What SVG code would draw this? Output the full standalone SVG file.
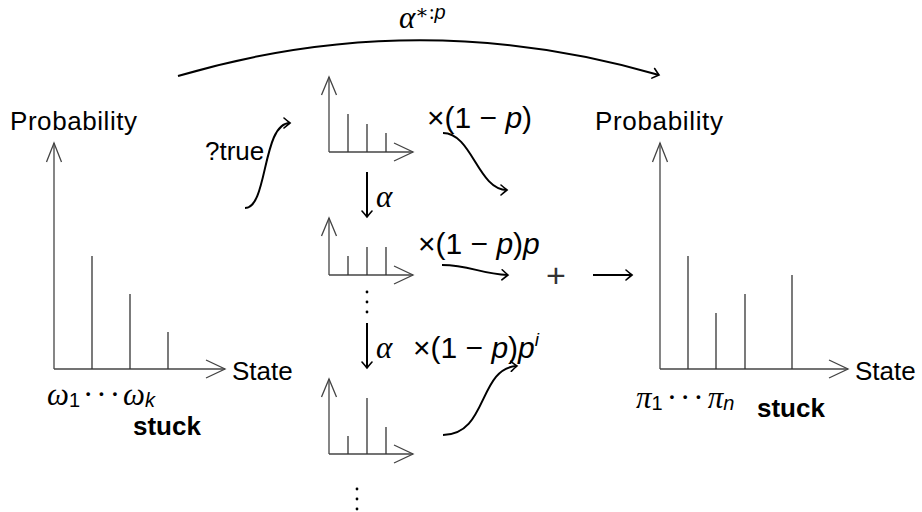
<svg xmlns="http://www.w3.org/2000/svg" width="922" height="512" viewBox="0 0 922 512">
<style>
.ax{fill:none;stroke:#444;stroke-width:1.3}
.bar{stroke:#333;stroke-width:1.3}
.con{fill:none;stroke:#000;stroke-width:2}
.t{font-family:"Liberation Sans","DejaVu Sans",sans-serif;font-size:26px;fill:#000}
.x{font-family:"Liberation Sans","DejaVu Sans",sans-serif;font-size:30px;fill:#000}
.b{font-family:"Liberation Sans","DejaVu Sans",sans-serif;font-size:26px;font-weight:bold;fill:#000}
.m{font-family:"Liberation Serif","DejaVu Serif",serif;font-style:italic;font-size:31px;fill:#000}
.mi{font-style:italic}
.dot{fill:#000}
</style>
<defs>
<marker id="to" viewBox="-8 -6 10 12" markerWidth="10" markerHeight="12" refX="0" refY="0" orient="auto" markerUnits="userSpaceOnUse">
<path d="M-6,-5 Q-2,-1.5 0,0 Q-2,1.5 -6,5" fill="none" stroke="#000" stroke-width="1.6" stroke-linecap="round"/>
</marker>
</defs>

<g id="left-chart">
<polyline class="ax" points="54,369 54,143"/>
<polyline class="ax" points="46.5,162 54,143 61.5,162"/>
<polyline class="ax" points="54,369 225,369"/>
<polyline class="ax" points="206,360 225,369 206,378"/>
<line class="bar" x1="92" y1="369" x2="92" y2="256"/>
<line class="bar" x1="130" y1="369" x2="130" y2="294"/>
<line class="bar" x1="168" y1="369" x2="168" y2="332"/>
<text class="t" x="10" y="130" textLength="127">Probability</text>
<text class="t" x="232" y="380">State</text>
<text x="47" y="405" class="m">ω<tspan font-family="Liberation Sans" font-style="normal" font-size="20" dy="2">1</tspan><tspan font-style="normal" dy="-2" dx="3">·</tspan><tspan font-style="normal" dx="3">·</tspan><tspan font-style="normal" dx="3">·</tspan><tspan dx="3">ω</tspan><tspan font-family="Liberation Sans" font-size="20" dy="2">k</tspan></text>
<text class="b" x="133" y="435">stuck</text>
</g>

<g id="mid-chart-1">
<polyline class="ax" points="329,152 329,77"/>
<polyline class="ax" points="321.5,95 329,77 336.5,95"/>
<polyline class="ax" points="329,152 413,152"/>
<polyline class="ax" points="394,143 413,152 394,161"/>
<line class="bar" x1="348" y1="152" x2="348" y2="114"/>
<line class="bar" x1="367" y1="152" x2="367" y2="124"/>
<line class="bar" x1="386" y1="152" x2="386" y2="133"/>
</g>

<g id="mid-chart-2">
<polyline class="ax" points="329,275 329,218"/>
<polyline class="ax" points="321.5,236 329,218 336.5,236"/>
<polyline class="ax" points="329,275 413,275"/>
<polyline class="ax" points="394,266 413,275 394,284"/>
<line class="bar" x1="348" y1="275" x2="348" y2="256"/>
<line class="bar" x1="367" y1="275" x2="367" y2="247"/>
<line class="bar" x1="386" y1="275" x2="386" y2="247"/>
</g>

<g id="mid-chart-3">
<polyline class="ax" points="329,454 329,379"/>
<polyline class="ax" points="321.5,397 329,379 336.5,397"/>
<polyline class="ax" points="329,454 413,454"/>
<polyline class="ax" points="394,445 413,454 394,463"/>
<line class="bar" x1="348" y1="454" x2="348" y2="436"/>
<line class="bar" x1="367" y1="454" x2="367" y2="398"/>
<line class="bar" x1="386" y1="454" x2="386" y2="427"/>
</g>

<g id="right-chart">
<polyline class="ax" points="660,369 660,143"/>
<polyline class="ax" points="652.5,162 660,143 667.5,162"/>
<polyline class="ax" points="660,369 848,369"/>
<polyline class="ax" points="829,360 848,369 829,378"/>
<line class="bar" x1="688" y1="369" x2="688" y2="256"/>
<line class="bar" x1="716" y1="369" x2="716" y2="313"/>
<line class="bar" x1="745" y1="369" x2="745" y2="294"/>
<line class="bar" x1="792" y1="369" x2="792" y2="275"/>
<text class="t" x="595" y="130" textLength="128">Probability</text>
<text class="t" x="855" y="380">State</text>
<text x="636" y="408" class="m">π<tspan font-family="Liberation Sans" font-style="normal" font-size="20" dy="2">1</tspan><tspan font-style="normal" dy="-2" dx="4">·</tspan><tspan font-style="normal" dx="3">·</tspan><tspan font-style="normal" dx="3">·</tspan><tspan dx="4">π</tspan><tspan font-family="Liberation Sans" font-size="20" dy="2">n</tspan></text>
<text class="b" x="757" y="417">stuck</text>
</g>

<g id="labels">
<text x="399" y="28" class="m">α<tspan font-style="normal" font-size="20" dy="-9">∗:</tspan><tspan font-family="Liberation Sans" font-size="20">p</tspan></text>
<text class="t" x="205" y="160">?true</text>
<text class="x" x="427" y="128">×(1 − <tspan class="mi">p</tspan>)</text>
<text class="x" x="418" y="254">×(1 − <tspan class="mi">p</tspan>)<tspan class="mi">p</tspan></text>
<text class="x" x="413" y="358">×(1 − <tspan class="mi">p</tspan>)<tspan class="mi">p</tspan><tspan class="mi" font-size="19" dy="-12">i</tspan></text>
<text x="376" y="207" class="m">α</text>
<text x="376" y="358" class="m">α</text>
<text x="556" y="287" text-anchor="middle" font-family="Liberation Sans, sans-serif" font-size="34" fill="#333">+</text>
<circle class="dot" cx="367" cy="292" r="1.4"/>
<circle class="dot" cx="367" cy="302" r="1.4"/>
<circle class="dot" cx="367" cy="312" r="1.4"/>
<circle class="dot" cx="357" cy="489" r="1.4"/>
<circle class="dot" cx="357" cy="499" r="1.4"/>
<circle class="dot" cx="357" cy="509" r="1.4"/>
</g>

<g id="connectors">
<path class="con" d="M178,76 Q418,5 659,75" marker-end="url(#to)"/>
<path class="con" d="M245,208 C268,208 262,123 290,123" marker-end="url(#to)"/>
<path class="con" d="M443,133 C472,133 478,190 507,190" marker-end="url(#to)"/>
<path class="con" d="M442,265 C470,265 480,274 508,275" marker-end="url(#to)"/>
<path class="con" d="M443,435 C488,435 478,368 517,366" marker-end="url(#to)"/>
<line class="con" x1="367" y1="172" x2="367" y2="217" marker-end="url(#to)"/>
<line class="con" x1="367" y1="323" x2="367" y2="368" marker-end="url(#to)"/>
<line class="con" x1="593" y1="275" x2="632" y2="275" marker-end="url(#to)"/>
</g>
</svg>
